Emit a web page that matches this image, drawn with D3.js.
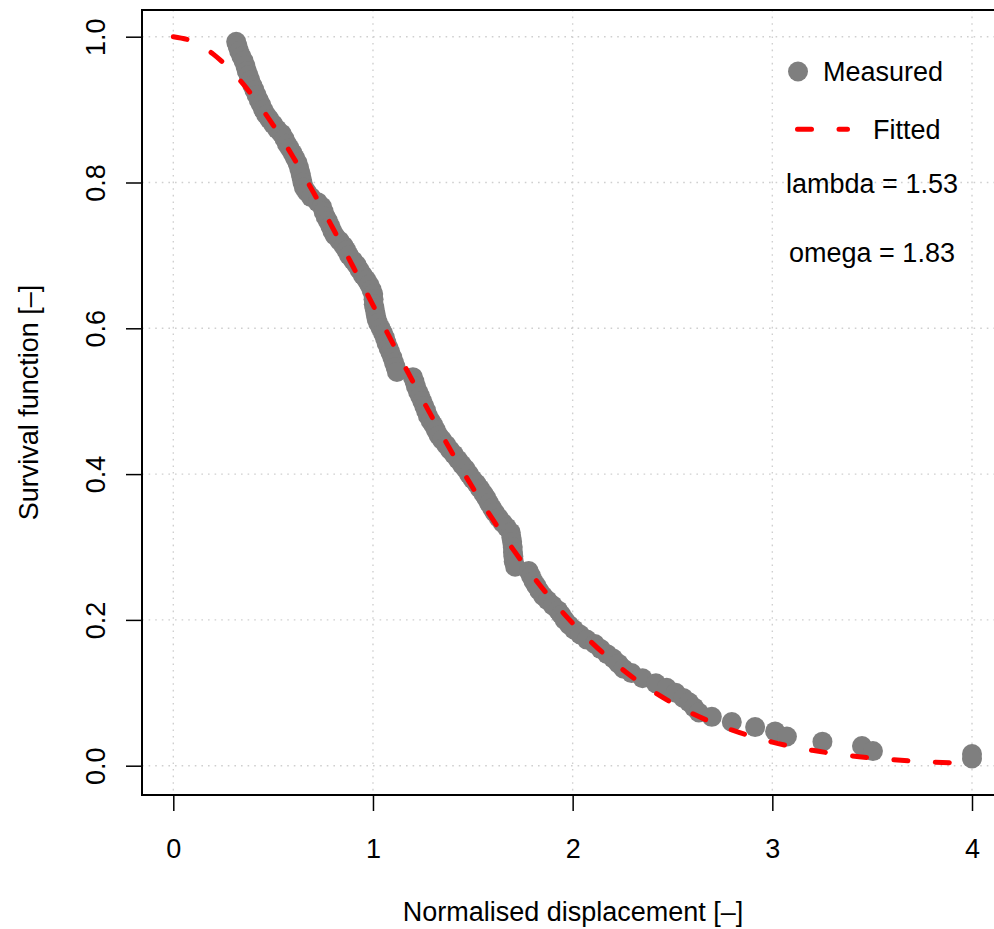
<!DOCTYPE html>
<html>
<head>
<meta charset="utf-8">
<script src="https://cdn.jsdelivr.net/npm/d3@7"></script>
<style>
  body { margin: 0; background: #fff; }
  text { font-family: "Liberation Sans", Arial, Helvetica, sans-serif; fill: #000; }
</style>
</head>
<body>
<svg id="chart" width="994" height="929"></svg>
<script>
// Measured points: sorted normalised displacement and empirical survival
const displacement = [
  0.315,0.322,0.330,0.341,0.352,0.361,0.368,0.377,0.386,0.396,
  0.406,0.417,0.428,0.439,0.450,0.465,0.481,0.500,0.520,0.542,
  0.557,0.569,0.583,0.598,0.611,0.622,0.630,0.637,0.642,0.647,
  0.654,0.669,0.690,0.723,0.744,0.753,0.763,0.775,0.787,0.797,
  0.810,0.833,0.853,0.867,0.880,0.900,0.918,0.933,0.949,0.966,
  0.981,0.993,1.001,1.003,1.004,1.008,1.013,1.018,1.026,1.039,
  1.051,1.060,1.068,1.078,1.087,1.097,1.105,1.113,1.120,1.200,
  1.208,1.215,1.226,1.236,1.247,1.257,1.266,1.275,1.289,1.303,
  1.316,1.329,1.346,1.367,1.386,1.405,1.425,1.445,1.464,1.481,
  1.499,1.518,1.536,1.554,1.568,1.582,1.597,1.611,1.630,1.650,
  1.670,1.690,1.693,1.697,1.700,1.701,1.703,1.705,1.712,1.780,
  1.792,1.804,1.818,1.833,1.852,1.874,1.900,1.927,1.943,1.960,
  1.983,2.006,2.037,2.071,2.111,2.141,2.173,2.203,2.230,2.255,
  2.295,2.350,2.417,2.471,2.516,2.554,2.583,2.608,2.632,2.697,
  2.797,2.914,3.014,3.073,3.251,3.449,3.504,4.000,4.000
];
const survival = [
  0.993,0.987,0.980,0.973,0.967,0.960,0.953,0.947,0.940,0.933,
  0.927,0.920,0.913,0.907,0.900,0.893,0.887,0.880,0.873,0.867,
  0.860,0.853,0.847,0.840,0.833,0.827,0.820,0.813,0.807,0.800,
  0.793,0.787,0.780,0.773,0.767,0.760,0.753,0.747,0.740,0.733,
  0.727,0.720,0.713,0.707,0.700,0.693,0.687,0.680,0.673,0.667,
  0.660,0.653,0.647,0.640,0.633,0.627,0.620,0.613,0.607,0.600,
  0.593,0.587,0.580,0.573,0.567,0.560,0.553,0.547,0.540,0.533,
  0.527,0.520,0.513,0.507,0.500,0.493,0.487,0.480,0.473,0.467,
  0.460,0.453,0.447,0.440,0.433,0.427,0.420,0.413,0.407,0.400,
  0.393,0.387,0.380,0.373,0.367,0.360,0.353,0.347,0.340,0.333,
  0.327,0.320,0.313,0.307,0.300,0.293,0.287,0.280,0.273,0.267,
  0.260,0.253,0.247,0.240,0.233,0.227,0.220,0.213,0.207,0.200,
  0.193,0.187,0.180,0.173,0.167,0.160,0.153,0.147,0.140,0.133,
  0.127,0.120,0.113,0.107,0.100,0.093,0.087,0.080,0.073,0.067,
  0.060,0.053,0.047,0.040,0.033,0.027,0.020,0.016,0.010
];

// Fitted Weibull survival curve (lambda = 1.53, omega = 1.83)
const lambda = 1.53;
const omega = 1.83;
const fitX = [
  0.0,0.1,0.2,0.3,0.4,0.5,0.6,0.7,0.8,0.9,1.0,1.1,1.2,1.3,1.4,1.5,1.6,1.7,1.8,1.9,
  2.0,2.1,2.2,2.3,2.4,2.5,2.6,2.7,2.8,2.9,3.0,3.1,3.2,3.3,3.4,3.5,3.6,3.7,3.8,3.9,4.0
];
const fitS = [
  1.0000,0.9932,0.9761,0.9506,0.9177,0.8788,0.8350,0.7874,0.7369,0.6848,
  0.6318,0.5789,0.5268,0.4761,0.4274,0.3812,0.3378,0.2974,0.2602,0.2262,
  0.1954,0.1678,0.1432,0.1214,0.1024,0.0858,0.0714,0.0592,0.0487,0.0399,
  0.0324,0.0262,0.0211,0.0169,0.0134,0.0106,0.0083,0.0065,0.0051,0.0039,0.0030
];

const xTicks = [0, 1, 2, 3, 4];
const yTicks = [0.0, 0.2, 0.4, 0.6, 0.8, 1.0];
const legendLabels = ["Measured", "Fitted"];
const xTitle = "Normalised displacement [\u2013]";
const yTitle = "Survival function [\u2013]";

const svg = d3.select("#chart");
const box = { left: 142, right: 1004, top: 10, bottom: 795 };
const fontSize = 27;
const grey = "#7f7f7f";
const red = "#ff0000";

const x = d3.scaleLinear().domain([0, 4]).range([173.3, 972]);
const y = d3.scaleLinear().domain([0, 1]).range([765.7, 36.7]);

// dotted grid
const grid = svg.append("g").attr("stroke", "#cfcfcf").attr("stroke-width", 1.4)
  .attr("stroke-dasharray", "1.6,5");
grid.selectAll("line.v").data(xTicks).join("line")
  .attr("x1", d => x(d)).attr("x2", d => x(d))
  .attr("y1", box.top).attr("y2", box.bottom);
grid.selectAll("line.h").data(yTicks).join("line")
  .attr("x1", box.left).attr("x2", box.right)
  .attr("y1", d => y(d)).attr("y2", d => y(d));

// measured points
const pts = displacement.map((d, i) => ({ x: d, s: survival[i] }));
svg.append("g").selectAll("circle").data(pts).join("circle")
  .attr("cx", d => x(d.x)).attr("cy", d => y(d.s)).attr("r", 10)
  .attr("fill", grey);

// fitted curve
const fit = fitX.map((d, i) => ({ x: d, s: fitS[i] }));
const line = d3.line().x(d => x(d.x)).y(d => y(d.s)).curve(d3.curveMonotoneX);
svg.append("path").datum(fit).attr("d", line)
  .attr("fill", "none").attr("stroke", red).attr("stroke-width", 5)
  .attr("stroke-linecap", "round").attr("stroke-dasharray", "14,27.5");

// plot frame
svg.append("rect")
  .attr("x", box.left).attr("y", box.top)
  .attr("width", box.right - box.left).attr("height", box.bottom - box.top)
  .attr("fill", "none").attr("stroke", "#000").attr("stroke-width", 2);

// x axis
const gx = svg.append("g").attr("transform", `translate(0,${box.bottom})`)
  .call(d3.axisBottom(x).tickValues(xTicks).tickFormat(d3.format("d")).tickSize(16).tickSizeOuter(0));
gx.select(".domain").remove();
gx.selectAll(".tick line").attr("stroke", "#000").attr("stroke-width", 1.5);
gx.selectAll(".tick text").attr("y", 63).attr("dy", null)
  .style("font-size", fontSize + "px").style("font-family", null);

// y axis
const gy = svg.append("g").attr("transform", `translate(${box.left},0)`)
  .call(d3.axisLeft(y).tickValues(yTicks).tickFormat(d3.format(".1f")).tickSize(16).tickSizeOuter(0));
gy.select(".domain").remove();
gy.selectAll(".tick line").attr("stroke", "#000").attr("stroke-width", 1.5);
gy.selectAll(".tick text").attr("x", null).attr("dy", null)
  .attr("text-anchor", "middle")
  .attr("transform", "translate(-37.5,0) rotate(-90)")
  .style("font-size", fontSize + "px");
svg.selectAll(".tick text").attr("font-family", null).attr("font-size", null);

// axis titles
svg.append("text").attr("x", (box.left + box.right) / 2).attr("y", 921)
  .attr("text-anchor", "middle").style("font-size", fontSize + "px").text(xTitle);
svg.append("text")
  .attr("transform", `translate(37.5,${(box.top + box.bottom) / 2}) rotate(-90)`)
  .attr("text-anchor", "middle").style("font-size", fontSize + "px").text(yTitle);

// legend
const lg = svg.append("g");
lg.append("circle").attr("cx", 798).attr("cy", 71.5).attr("r", 10).attr("fill", grey);
lg.append("text").attr("x", 823).attr("y", 80.7).style("font-size", fontSize + "px").text(legendLabels[0]);
lg.append("line").attr("x1", 797.5).attr("x2", 847.5).attr("y1", 129.3).attr("y2", 129.3)
  .attr("stroke", red).attr("stroke-width", 5).attr("stroke-linecap", "round")
  .attr("stroke-dasharray", "14,27.5");
lg.append("text").attr("x", 873).attr("y", 139).style("font-size", fontSize + "px").text(legendLabels[1]);
lg.append("text").attr("x", 872).attr("y", 193).attr("text-anchor", "middle")
  .style("font-size", fontSize + "px").text(`lambda = ${lambda.toFixed(2)}`);
lg.append("text").attr("x", 872).attr("y", 262).attr("text-anchor", "middle")
  .style("font-size", fontSize + "px").text(`omega = ${omega.toFixed(2)}`);
</script>
</body>
</html>
